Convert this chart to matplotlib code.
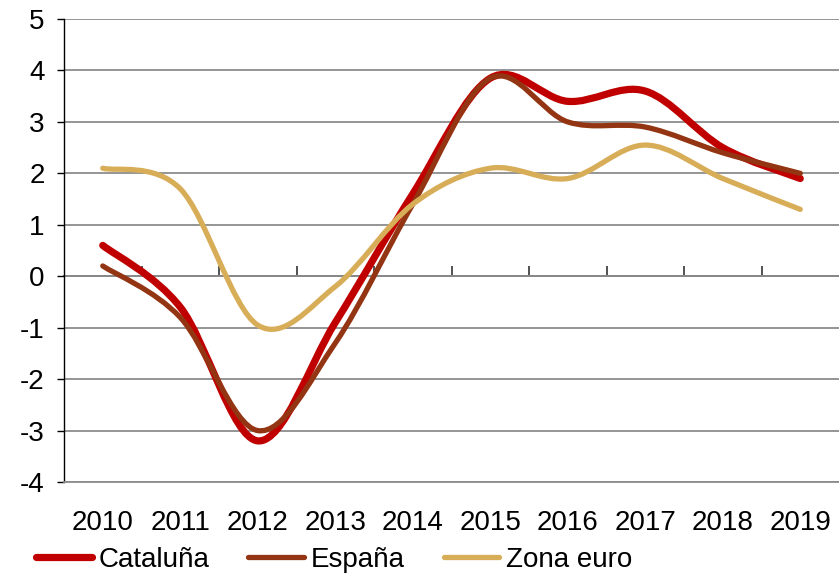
import numpy as np
import matplotlib.pyplot as plt
from matplotlib.path import Path
from matplotlib.patches import PathPatch
from matplotlib.lines import Line2D

plt.rcParams['font.family'] = ['Liberation Sans', 'DejaVu Sans']
# guion normal para los negativos
plt.rcParams['axes.unicode_minus'] = False

years = ['2010', '2011', '2012', '2013', '2014', '2015', '2016', '2017', '2018', '2019']
cataluna = [0.6, -0.6, -3.2, -0.9, 1.6, 3.85, 3.4, 3.6, 2.5, 1.9]
espana = [0.2, -0.8, -3.0, -1.3, 1.4, 3.85, 3.0, 2.9, 2.4, 2.0]
zona_euro = [2.1, 1.7, -0.95, -0.2, 1.4, 2.1, 1.9, 2.55, 1.9, 1.3]

series = [
    ('Cataluña', cataluna, '#C00000', 5.2),
    ('España', espana, '#933413', 3.8),
    ('Zona euro', zona_euro, '#D8AD58', 3.8),
]


# curva suavizada estilo Excel (bezier entre los puntos)
def smooth_path(y):
    x = np.arange(len(y), dtype=float)
    y = np.asarray(y, dtype=float)
    pts = np.column_stack([x, y])
    n = len(pts)
    verts = [pts[0]]
    codes = [Path.MOVETO]
    for i in range(n - 1):
        p0 = pts[max(i - 1, 0)]
        p1 = pts[i]
        p2 = pts[i + 1]
        p3 = pts[min(i + 2, n - 1)]
        c1 = p1 + (p2 - p0) / 6
        c2 = p2 - (p3 - p1) / 6
        verts += [c1, c2, p2]
        codes += [Path.CURVE4] * 3
    return Path(verts, codes)


fig = plt.figure(figsize=(8.39, 5.77), dpi=100)
ax = fig.add_axes([0.0763, 0.1646, 0.9237, 0.8024])

handles = []
for name, vals, color, lw in series:
    patch = PathPatch(smooth_path(vals), facecolor='none', edgecolor=color,
                      linewidth=lw, capstyle='round', joinstyle='round', zorder=3)
    ax.add_patch(patch)
    handles.append(Line2D([], [], color=color, linewidth=lw, solid_capstyle='round', label=name))

ax.set_xlim(-0.5, len(years) - 0.5)
ax.set_ylim(-4, 5)
ax.set_yticks(range(-4, 6))
ax.yaxis.grid(True, color='#8c8c8c', linewidth=1.3)
ax.set_axisbelow(True)

for s in ['top', 'right']:
    ax.spines[s].set_visible(False)
ax.spines['bottom'].set_color('#8c8c8c')
ax.spines['bottom'].set_linewidth(1.3)
ax.spines['left'].set_color('black')
ax.spines['left'].set_linewidth(1.0)

ax.tick_params(axis='y', direction='out', length=5, width=1, labelsize=20, pad=9)
ax.set_xticks(range(len(years)))
ax.set_xticklabels(years)
ax.tick_params(axis='x', length=0, labelsize=20, pad=20)

# eje horizontal en el cero con marcas entre categorías
sec = ax.secondary_xaxis(4 / 9)
sec.set_xticks(np.arange(len(years) - 1) + 0.5)
sec.tick_params(axis='x', direction='in', length=7, width=1.2, color='#333333', labelbottom=False, labeltop=False)
sec.spines['bottom'].set_color('#666666')
sec.spines['bottom'].set_linewidth(1.3)
for s in ['top', 'left', 'right']:
    sec.spines[s].set_visible(False)

fig.legend(handles=handles, loc='center', bbox_to_anchor=(0.3985, 0.03), ncol=3,
           frameon=False, fontsize=20, handlelength=2.0, handletextpad=0.25,
           columnspacing=1.4, borderaxespad=0)

fig.savefig('out.png', dpi=100)
